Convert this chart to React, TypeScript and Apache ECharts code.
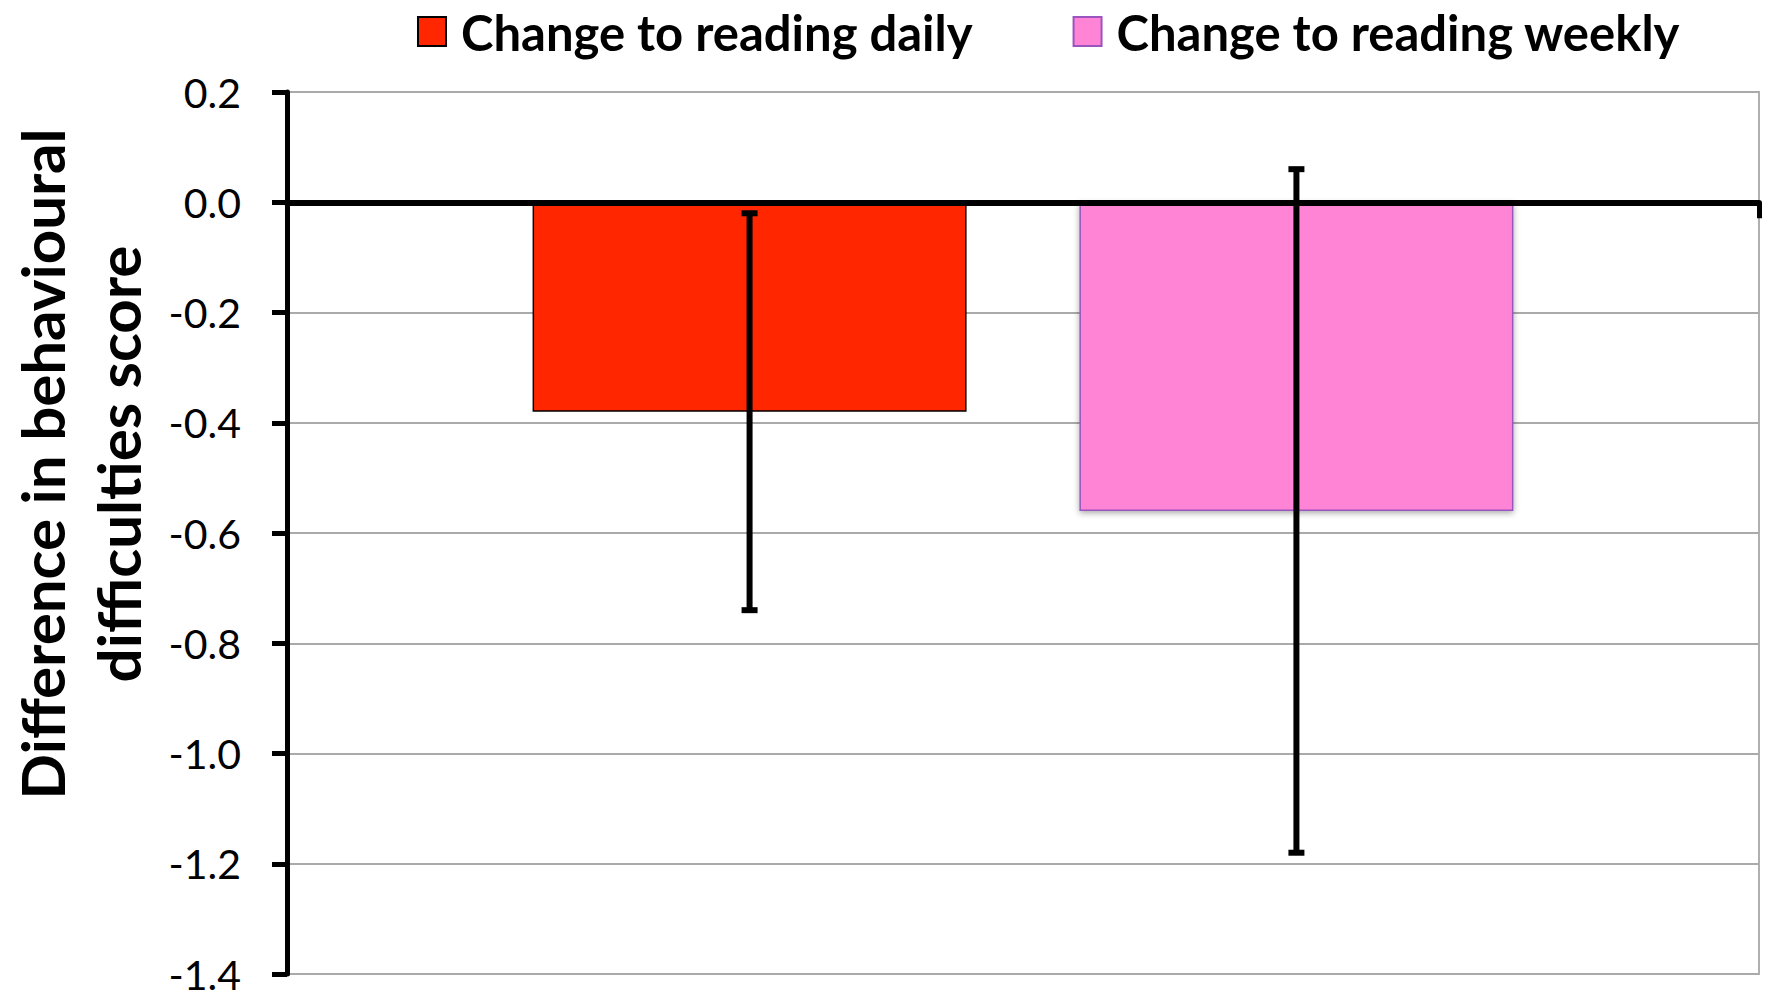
import React, { useEffect, useRef } from "react";
import * as echarts from "echarts";

const categories = [""];
const seriesNames = ["Change to reading daily", "Change to reading weekly"];
const dailyValues = [-0.38];
const weeklyValues = [-0.56];
const errorLow = [-0.74, -1.18];
const errorHigh = [-0.02, 0.06];
const yTitle = "Difference in behavioural\ndifficulties score";

const BAR_WIDTH = 434;
const BAR_GAP = "26%";
const FONT = "Lato, 'Open Sans', sans-serif";

export default function App() {
  const ref = useRef<HTMLDivElement>(null);

  useEffect(() => {
    document.body.style.margin = "0";
    if (!ref.current) return;
    const chart = echarts.init(ref.current, undefined, { renderer: "svg" });

    const errData = errorLow.map((lo, i) => [0, lo, errorHigh[i], i]);

    const option: any = {
      animation: false,
      backgroundColor: "#ffffff",
      textStyle: { fontFamily: FONT },
      legend: {
        data: seriesNames,
        left: 417,
        top: 7,
        padding: 0,
        itemWidth: 28,
        itemHeight: 29,
        itemGap: 100,
        icon: "rect",
        textStyle: {
          fontFamily: FONT,
          fontWeight: "bold",
          fontSize: 49,
          lineHeight: 40,
          color: "#000",
          padding: [0, 0, 0, 10],
        },
      },
      grid: {
        left: 287,
        right: 9,
        top: 92,
        bottom: 27,
        containLabel: false,
        show: true,
        borderColor: "#b0b0b0",
        borderWidth: 2,
      },
      xAxis: {
        type: "category",
        data: categories,
        z: 3,
        axisLine: { show: true, onZero: true, lineStyle: { color: "#000", width: 6 } },
        axisTick: { show: true, length: 16, lineStyle: { color: "#000", width: 5 } },
        axisLabel: { show: false },
        splitLine: { show: false },
      },
      yAxis: {
        type: "value",
        min: -1.4,
        max: 0.2,
        interval: 0.2,
        axisLine: { show: true, lineStyle: { color: "#000", width: 5 } },
        axisTick: { show: true, length: 15, lineStyle: { color: "#000", width: 5 } },
        axisLabel: {
          margin: 46,
          fontFamily: FONT,
          fontSize: 41,
          color: "#000",
          formatter: (v: number) => v.toFixed(1),
        },
        splitLine: { show: true, lineStyle: { color: "#aaaaaa", width: 2 } },
      },
      series: [
        {
          name: seriesNames[0],
          type: "bar",
          data: dailyValues,
          barWidth: BAR_WIDTH,
          barGap: BAR_GAP,
          itemStyle: { color: "#ff2600", borderColor: "#000", borderWidth: 1.5 },
        },
        {
          name: seriesNames[1],
          type: "bar",
          data: weeklyValues,
          barWidth: BAR_WIDTH,
          barGap: BAR_GAP,
          itemStyle: {
            color: "#ff84d5",
            borderColor: "#9a55c0",
            borderWidth: 1.5,
            shadowBlur: 6,
            shadowColor: "rgba(0,0,0,0.35)",
            shadowOffsetY: 2,
          },
        },
        {
          name: "error",
          type: "custom",
          z: 5,
          data: errData,
          encode: { x: 0, y: [1, 2] },
          renderItem: (params: any, api: any) => {
            const cat = api.value(0);
            const lo = api.value(1);
            const hi = api.value(2);
            const idx = api.value(3);
            let off = 0;
            const layout = api.barLayout
              ? api.barLayout({ barWidth: BAR_WIDTH, barGap: BAR_GAP, count: 2 })
              : null;
            if (layout && layout[idx]) {
              off = layout[idx].offsetCenter != null
                ? layout[idx].offsetCenter
                : layout[idx].offset + layout[idx].width / 2;
            }
            const pLo = api.coord([cat, lo]);
            const pHi = api.coord([cat, hi]);
            const x = pLo[0] + off;
            const cap = 8;
            const style = { stroke: "#000", lineWidth: 6 };
            return {
              type: "group",
              children: [
                { type: "line", shape: { x1: x, y1: pHi[1], x2: x, y2: pLo[1] }, style },
                { type: "line", shape: { x1: x - cap, y1: pHi[1], x2: x + cap, y2: pHi[1] }, style },
                { type: "line", shape: { x1: x - cap, y1: pLo[1], x2: x + cap, y2: pLo[1] }, style },
              ],
            };
          },
        },
      ],
      graphic: [
        {
          type: "text",
          x: 80,
          y: 464,
          rotation: Math.PI / 2,
          style: {
            text: yTitle,
            fontFamily: FONT,
            fontWeight: "bold",
            fontSize: 60,
            lineHeight: 76,
            fill: "#000",
            align: "center",
            verticalAlign: "middle",
          },
        },
      ],
    };

    chart.setOption(option);
    return () => chart.dispose();
  }, []);

  return <div ref={ref} style={{ width: 1768, height: 1001 }} />;
}
